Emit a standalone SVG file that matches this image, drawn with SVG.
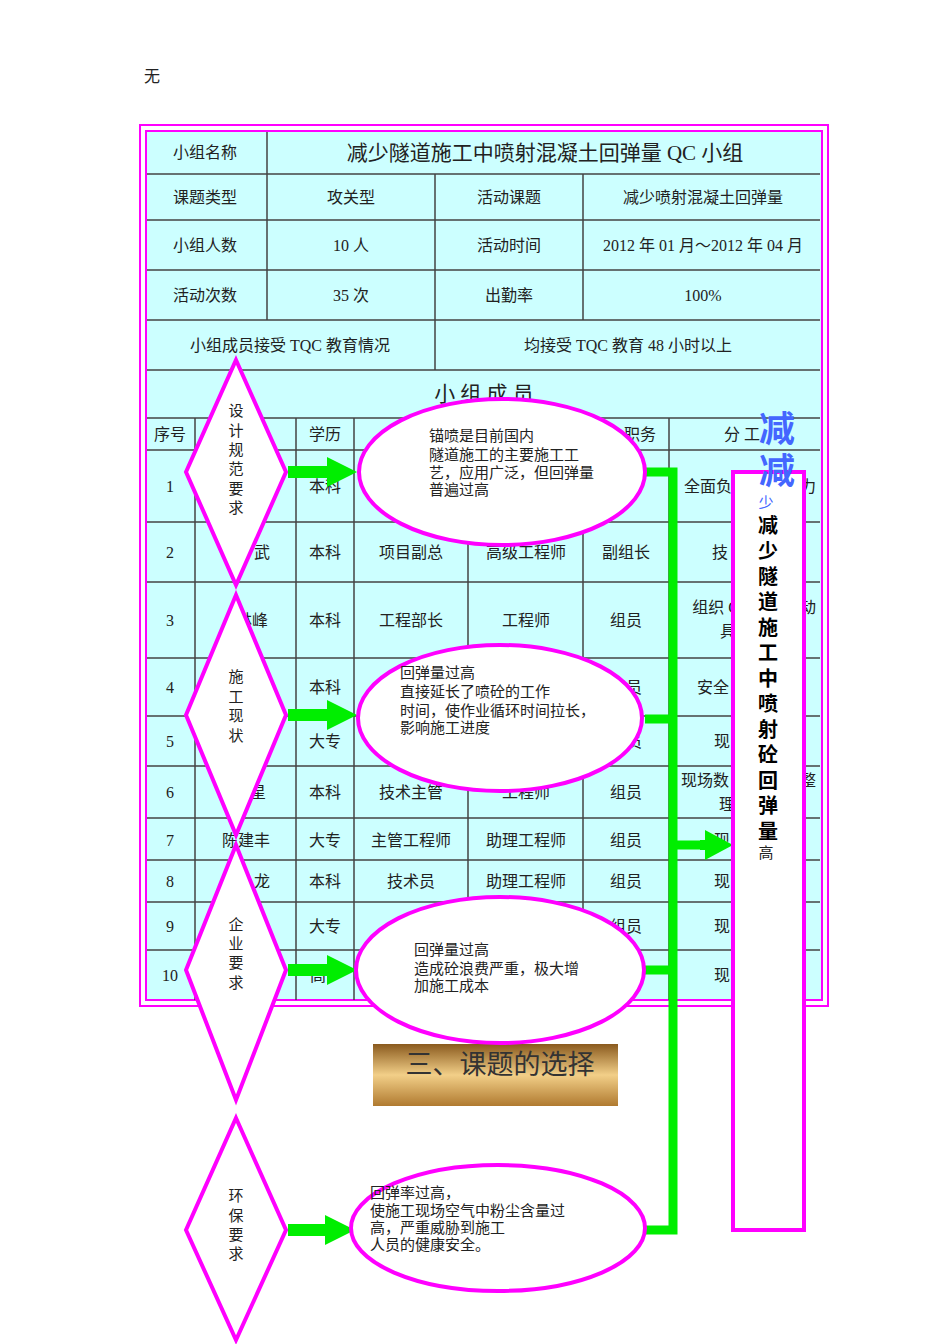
<svg xmlns="http://www.w3.org/2000/svg" width="950" height="1344" viewBox="0 0 950 1344">
<defs>
<linearGradient id="g" x1="0" y1="0" x2="0" y2="1"><stop offset="0" stop-color="#8a5a1e"/><stop offset="0.5" stop-color="#f2cf88"/><stop offset="1" stop-color="#b07a30"/></linearGradient>
</defs>
<style>
text{font-family:"Liberation Serif","Noto Sans CJK SC",serif;font-size:16px;fill:#222;text-anchor:middle}
.d{fill:#fff;stroke:#ff00ff;stroke-width:4}
.l text{text-anchor:start;font-size:15px}
.g{fill:#00ee00}
.gl{stroke:#00ee00;stroke-width:9;fill:none}
.v{font-size:15px}
.b{font-family:"Noto Sans CJK SC",sans-serif;font-weight:bold;font-size:20px;fill:#000}
</style>
<rect width="950" height="1344" fill="#fff"/>
<text x="152" y="82">无</text>
<g id="table">
<rect x="140" y="125" width="688" height="881" fill="none" stroke="#ff00ff" stroke-width="2"/>
<rect x="146" y="131" width="676" height="869" fill="#ccffff" stroke="#ff00ff" stroke-width="2"/>
<g fill="none" stroke="#444" stroke-width="1.5">
<path d="M147 174H820M147 220H820M147 270H820M147 320H820M147 370H820M147 418H820M147 450H820M147 522H820M147 582H820M147 658H820M147 716H820M147 766H820M147 818H820M147 860H820M147 902H820M147 950H820"/>
<path d="M267 132V320M435 174V370M583 174V320M435 320V370"/>
<path d="M195 418V1000M296 418V1000M354 418V1000M468 418V1000M583 418V1000M669 418V1000"/>
</g>
<text x="205" y="158">小组名称</text>
<text x="545" y="160" style="font-size:21px">减少隧道施工中喷射混凝土回弹量 QC 小组</text>
<text x="205" y="203">课题类型</text><text x="351" y="203">攻关型</text><text x="509" y="203">活动课题</text><text x="703" y="203">减少喷射混凝土回弹量</text>
<text x="205" y="251">小组人数</text><text x="351" y="251">10 人</text><text x="509" y="251">活动时间</text><text x="703" y="251">2012 年 01 月～2012 年 04 月</text>
<text x="205" y="301">活动次数</text><text x="351" y="301">35 次</text><text x="509" y="301">出勤率</text><text x="703" y="301">100%</text>
<text x="290" y="351">小组成员接受 TQC 教育情况</text><text x="628" y="351">均接受 TQC 教育 48 小时以上</text>
<text x="484" y="401" style="font-size:21px">小 组 成 员</text>
<text x="170" y="440">序号</text><text x="325" y="440">学历</text><text x="640" y="440">职务</text><text x="742" y="440">分 工</text>
<text x="170" y="492">1</text><text x="325" y="492">本科</text><text x="716" y="492">全面负责</text><text x="808" y="492">力</text>
<text x="170" y="558">2</text><text x="262" y="558">武</text><text x="325" y="558">本科</text><text x="411" y="558">项目副总</text><text x="526" y="558">高级工程师</text><text x="626" y="558">副组长</text><text x="720" y="558">技</text>
<text x="170" y="626">3</text><text x="252" y="626">林峰</text><text x="325" y="626">本科</text><text x="411" y="626">工程部长</text><text x="526" y="626">工程师</text><text x="626" y="626">组员</text><text x="716" y="613">组织 Q</text><text x="728" y="637">具</text><text x="808" y="613">动</text>
<text x="170" y="693">4</text><text x="325" y="693">本科</text><text x="626" y="693">组员</text><text x="713" y="693">安全</text>
<text x="170" y="747">5</text><text x="325" y="747">大专</text><text x="626" y="747">组员</text><text x="722" y="747">现</text>
<text x="170" y="798">6</text><text x="258" y="798">星</text><text x="325" y="798">本科</text><text x="411" y="798">技术主管</text><text x="526" y="798">工程师</text><text x="626" y="798">组员</text><text x="705" y="786">现场数</text><text x="727" y="810">理</text><text x="808" y="786">整</text>
<text x="170" y="846">7</text><text x="246" y="846">陈建丰</text><text x="325" y="846">大专</text><text x="411" y="846">主管工程师</text><text x="526" y="846">助理工程师</text><text x="626" y="846">组员</text><text x="722" y="846">现</text>
<text x="170" y="887">8</text><text x="262" y="887">龙</text><text x="325" y="887">本科</text><text x="411" y="887">技术员</text><text x="526" y="887">助理工程师</text><text x="626" y="887">组员</text><text x="722" y="887">现</text>
<text x="170" y="932">9</text><text x="325" y="932">大专</text><text x="626" y="932">组员</text><text x="722" y="932">现</text>
<text x="170" y="981">10</text><text x="318" y="981">高</text><text x="722" y="981">现</text>
</g>
<g id="banner">
<rect x="373" y="1044" width="245" height="62" fill="url(#g)"/>
<text x="500" y="1074" style="font-size:27px;fill:#333">三、课题的选择</text>
</g>
<g id="connectors">
<path class="gl" d="M645 472H673V1230H645M645 719H673M645 970H673M673 845H705"/>
<polygon class="g" points="288,466 327,466 327,457 357,472 327,487 327,478 288,478"/>
<polygon class="g" points="288,709 327,709 327,700 357,715 327,730 327,721 288,721"/>
<polygon class="g" points="288,964 327,964 327,955 357,970 327,985 327,976 288,976"/>
<polygon class="g" points="288,1224 325,1224 325,1215 355,1230 325,1245 325,1236 288,1236"/>
<polygon class="g" points="700,840 705,840 705,830 733,845 705,860 705,850 700,850"/>
</g>
<g id="n1"><polygon class="d" points="236,360 286,472 236,585 186,472"/>
<text class="v" x="236" y="416">设</text><text class="v" x="236" y="436">计</text><text class="v" x="236" y="455">规</text><text class="v" x="236" y="474">范</text><text class="v" x="236" y="494">要</text><text class="v" x="236" y="513">求</text></g>
<g id="n2"><polygon class="d" points="236,595 286,715 236,835 186,715"/>
<text class="v" x="236" y="682">施</text><text class="v" x="236" y="702">工</text><text class="v" x="236" y="721">现</text><text class="v" x="236" y="741">状</text></g>
<g id="n3"><polygon class="d" points="236,845 286,970 236,1100 186,970"/>
<text class="v" x="236" y="930">企</text><text class="v" x="236" y="949">业</text><text class="v" x="236" y="968">要</text><text class="v" x="236" y="988">求</text></g>
<g id="n4"><polygon class="d" points="236,1118 286,1230 236,1340 186,1230"/>
<text class="v" x="236" y="1201">环</text><text class="v" x="236" y="1221">保</text><text class="v" x="236" y="1240">要</text><text class="v" x="236" y="1259">求</text></g>
<g id="e1" class="l"><ellipse class="d" cx="502" cy="472" rx="143" ry="73"/>
<text x="429" y="441">锚喷是目前国内</text><text x="429" y="460">隧道施工的主要施工工</text><text x="429" y="478">艺，应用广泛，但回弹量</text><text x="429" y="495">普遍过高</text></g>
<g id="e2" class="l"><ellipse class="d" cx="500" cy="718" rx="142" ry="73"/>
<text x="400" y="678">回弹量过高</text><text x="400" y="697">直接延长了喷砼的工作</text><text x="400" y="716">时间，使作业循环时间拉长，</text><text x="400" y="733">影响施工进度</text></g>
<g id="e3" class="l"><ellipse class="d" cx="500" cy="970" rx="144" ry="73"/>
<text x="414" y="955">回弹量过高</text><text x="414" y="974">造成砼浪费严重，极大增</text><text x="414" y="991">加施工成本</text></g>
<g id="e4" class="l"><ellipse class="d" cx="498" cy="1228" rx="147" ry="63"/>
<text x="370" y="1198">回弹率过高，</text><text x="370" y="1216">使施工现场空气中粉尘含量过</text><text x="370" y="1233">高，严重威胁到施工</text><text x="370" y="1250">人员的健康安全。</text></g>
<g id="goal">
<text x="777" y="442" style="font-size:36px;fill:#4466ff;font-family:'Noto Sans CJK SC',sans-serif;font-weight:bold">减</text>
<rect x="733" y="472" width="71" height="758" fill="#fff" stroke="#ff00ff" stroke-width="4"/>
<text x="777" y="484" style="font-size:36px;fill:#4466ff;font-family:'Noto Sans CJK SC',sans-serif;font-weight:bold">减</text>
<text x="766" y="508" style="font-size:15px;fill:#4466ff">少</text>
<text class="b" x="768" y="533">减</text><text class="b" x="768" y="558">少</text><text class="b" x="768" y="584">隧</text><text class="b" x="768" y="609">道</text><text class="b" x="768" y="635">施</text><text class="b" x="768" y="660">工</text><text class="b" x="768" y="686">中</text><text class="b" x="768" y="711">喷</text><text class="b" x="768" y="737">射</text><text class="b" x="768" y="762">砼</text><text class="b" x="768" y="788">回</text><text class="b" x="768" y="813">弹</text><text class="b" x="768" y="839">量</text>
<text x="766" y="858" style="font-size:15px">高</text>
</g>
</svg>
